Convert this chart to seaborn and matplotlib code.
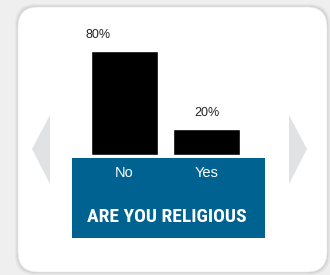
import matplotlib
matplotlib.use("Agg")
import matplotlib.pyplot as plt
from matplotlib.patches import FancyBboxPatch, Polygon, Rectangle
from matplotlib import font_manager
import seaborn as sns
import pandas as pd

# data
answers = ["No", "Yes"]
shares = [80, 20]
labels = ["80%", "20%"]
title = "ARE YOU RELIGIOUS"

df = pd.DataFrame({"answer": answers, "share": shares})

sns.set_style("white")
plt.rcParams["font.family"] = ["Liberation Sans", "DejaVu Sans"]

# pick a narrow face for the caption if one is there
names = {f.name for f in font_manager.fontManager.ttflist}
narrow = [n for n in ["Liberation Sans Narrow", "DejaVu Sans Condensed",
                      "Roboto Condensed", "Open Sans Condensed"] if n in names]
print(narrow)

W, H = 330, 275
fig = plt.figure(figsize=(3.3, 2.75), dpi=100)
fig.patch.set_facecolor("#efefef")

# background layer in pixel coords
bg = fig.add_axes([0, 0, 1, 1])
bg.set_xlim(0, W)
bg.set_ylim(H, 0)
bg.axis("off")

# soft shadow round the card
for i, a in enumerate([0.03, 0.04, 0.05]):
    g = 3 - i
    bg.add_patch(FancyBboxPatch((18 - g, 7 - g), 309 + 2 * g, 265 + 2 * g,
                                boxstyle="round,pad=0,rounding_size=20",
                                fc="black", ec="none", alpha=a))
bg.add_patch(FancyBboxPatch((18, 7), 309, 265,
                            boxstyle="round,pad=0,rounding_size=20",
                            fc="white", ec="#ebebeb", lw=0.5))

# nav arrows
bg.add_patch(Polygon([(50, 115), (32, 149), (50, 184)], closed=True,
                     fc="#e1e2e4", ec="none"))
bg.add_patch(Polygon([(289, 115), (307, 149), (289, 184)], closed=True,
                     fc="#e1e2e4", ec="none"))

# blue caption box
bg.add_patch(Rectangle((72, 158), 193, 80, fc="#006290", ec="none"))
if narrow:
    fam, fs, st = [narrow[0], "DejaVu Sans"], 14, "condensed"
else:
    fam, fs, st = ["DejaVu Sans"], 10, "normal"
bg.text(167, 217, title, ha="center", va="center", color="white",
        fontsize=fs, fontweight="bold", fontstretch=st, family=fam)

# bar chart
ax = fig.add_axes([72 / W, (H - 155) / H, 193 / W, 130 / H])
ax.patch.set_alpha(0)
sns.barplot(data=df, x="answer", y="share", color="black", width=0.82,
            saturation=1, ax=ax)
ax.set_ylim(0, 100)
ax.set_xlim(-0.64, 1.713)
ax.set_xlabel("")
ax.set_ylabel("")
ax.set_yticks([])
ax.tick_params(axis="x", length=0, pad=8, colors="white", labelsize=10.5)
sns.despine(ax=ax, left=True, bottom=True)

offsets = [-0.32, 0]
for i, (v, lab) in enumerate(zip(shares, labels)):
    ax.text(i + offsets[i], v + 7.5, lab, ha="center", va="bottom",
            fontsize=9, color="#222222")

fig.savefig("out.png", dpi=100, facecolor=fig.get_facecolor())
